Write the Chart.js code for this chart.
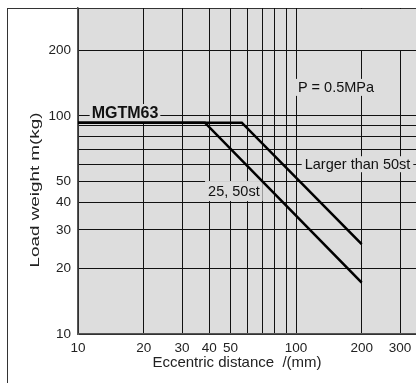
<!DOCTYPE html>
<html>
<head>
<meta charset="utf-8">
<script src="https://cdn.jsdelivr.net/npm/chart.js@4/dist/chart.umd.min.js"></script>
<style>
  html, body { margin: 0; padding: 0; background: #fff; }
  #wrap { width: 416px; height: 383px; position: relative; }
</style>
</head>
<body>
<div id="wrap"><canvas id="c"></canvas></div>
<script>
// ---- data ----
const xGridValues = [10, 20, 30, 40, 50, 60, 70, 80, 90, 100, 200, 300];
const xTickLabels = [10, 20, 30, 40, 50, 100, 200, 300];
const yGridValues = [10, 20, 30, 40, 50, 60, 70, 80, 90, 100, 200];
const yTickLabels = [10, 20, 30, 40, 50, 100, 200];

const seriesNames = ['Larger than 50st', '25, 50st'];
const largerX = [10, 56.4, 200];
const largerY = [93, 93, 25.8];
const shortX = [10, 38.2, 200];
const shortY = [93, 93, 17.2];

const modelName = 'MGTM63';
const pressureText = 'P = 0.5MPa';
const xTitle = 'Eccentric distance  /(mm)';
const yTitle = 'Load weight m(kg)';

const FONT = '"Liberation Sans", Arial, Helvetica, sans-serif';
const PLOT_BG = '#dddddd';

function pts(xs, ys) { return xs.map((x, i) => ({ x: x, y: ys[i] })); }

// label boxes: text, font, left x (data), centre y (data)
const annotations = [
  { text: modelName, font: 'bold 16px ' + FONT, x: 11.55, y: 103, padX: 2, halfH: 9 },
  { text: pressureText, font: '14.5px ' + FONT, x: 102, y: 135, padX: 3, halfH: 8.5 },
  { text: seriesNames[0], font: '14.5px ' + FONT, x: 109.6, y: 60, padX: 3, halfH: 8 },
  { text: seriesNames[1], font: '14.5px ' + FONT, x: 39.5, y: 45.2, padX: 3, halfH: 10 }
];

const decorPlugin = {
  id: 'decor',
  beforeDraw(chart) {
    const { ctx, chartArea: a } = chart;
    ctx.save();
    ctx.fillStyle = '#ffffff';
    ctx.fillRect(0, 0, chart.width, chart.height);
    ctx.fillStyle = PLOT_BG;
    ctx.fillRect(a.left, a.top, a.right - a.left, a.bottom - a.top);
    ctx.strokeStyle = '#333';
    ctx.lineWidth = 1;
    ctx.strokeRect(7.5, a.top + 0.5, chart.width + 20, chart.height + 20);
    ctx.restore();
  },
  beforeDatasetsDraw(chart) {
    const { ctx, chartArea: a } = chart;
    const xs = chart.scales.x, ys = chart.scales.y;
    ctx.save();
    // grid above 200 kg only runs up to 100 mm
    const y200 = ys.getPixelForValue(200);
    const x150 = xs.getPixelForValue(150);
    ctx.fillStyle = PLOT_BG;
    ctx.fillRect(x150, a.top + 1, a.right - x150, Math.floor(y200) - a.top - 1);
    // annotation boxes
    ctx.textBaseline = 'middle';
    ctx.textAlign = 'left';
    annotations.forEach(an => {
      ctx.font = an.font;
      const w = ctx.measureText(an.text).width;
      const px = xs.getPixelForValue(an.x);
      const py = ys.getPixelForValue(an.y);
      ctx.fillStyle = PLOT_BG;
      ctx.fillRect(px - an.padX, py - an.halfH, w + 2 * an.padX, 2 * an.halfH);
      ctx.fillStyle = '#111';
      ctx.fillText(an.text, px, py + 0.5);
    });
    ctx.restore();
  },
  afterDraw(chart) {
    const { ctx, chartArea: a } = chart;
    ctx.save();
    ctx.fillStyle = '#222';
    ctx.textAlign = 'center';
    ctx.textBaseline = 'middle';
    // x title
    ctx.font = '15px ' + FONT;
    ctx.fillText(xTitle, 237, a.bottom + 29);
    // y title (stretched along its length like the reference)
    ctx.font = '13px ' + FONT;
    const w = ctx.measureText(yTitle).width;
    ctx.translate(35, 190);
    ctx.rotate(-Math.PI / 2);
    ctx.scale(155 / w, 1);
    ctx.fillText(yTitle, 0, 0);
    ctx.restore();
  }
};

new Chart(document.getElementById('c'), {
  type: 'scatter',
  data: {
    datasets: [
      { label: seriesNames[0], data: pts(largerX, largerY), showLine: true,
        borderColor: '#000', borderWidth: 2.6, pointRadius: 0, fill: false },
      { label: seriesNames[1], data: pts(shortX, shortY), showLine: true,
        borderColor: '#000', borderWidth: 2.6, pointRadius: 0, fill: false }
    ]
  },
  options: {
    responsive: true,
    maintainAspectRatio: false,
    animation: false,
    devicePixelRatio: 1,
    layout: { padding: { top: 8, left: 0, right: 0, bottom: 0 } },
    plugins: { legend: { display: false }, tooltip: { enabled: false }, title: { display: false } },
    scales: {
      x: {
        type: 'logarithmic', min: 10, max: 355,
        afterBuildTicks: s => { s.ticks = xGridValues.map(v => ({ value: v })); },
        afterFit: s => { s.height = 49; s.paddingLeft = 0; s.paddingRight = 0; },
        ticks: {
          autoSkip: false, maxRotation: 0, padding: 6, color: '#222',
          font: { family: FONT, size: 13.5 },
          callback: v => xTickLabels.includes(v) ? String(v) : ''
        },
        grid: { color: '#111', lineWidth: 1, drawTicks: false },
        border: { color: '#555', width: 1.5 }
      },
      y: {
        type: 'logarithmic', min: 10, max: 312,
        afterBuildTicks: s => { s.ticks = yGridValues.map(v => ({ value: v })); },
        afterFit: s => { s.width = 78; s.paddingTop = 0; s.paddingBottom = 0; },
        ticks: {
          autoSkip: false, padding: 7, color: '#222',
          font: { family: FONT, size: 13.5 },
          callback: v => yTickLabels.includes(v) ? String(v) : ''
        },
        grid: { color: '#111', lineWidth: 1, drawTicks: false },
        border: { color: '#555', width: 1.5 }
      }
    }
  },
  plugins: [decorPlugin]
});
</script>
</body>
</html>
